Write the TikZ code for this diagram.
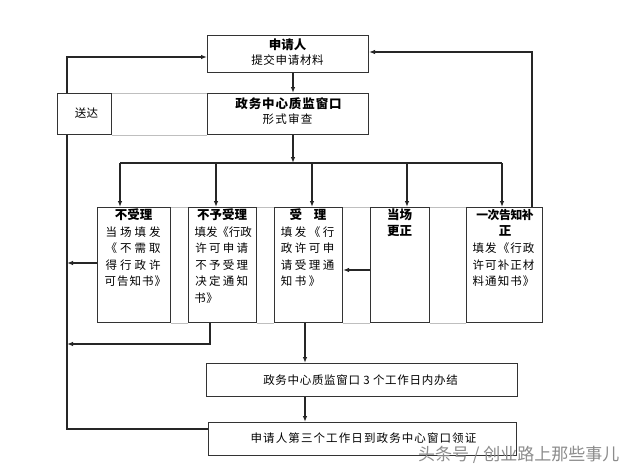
\documentclass[tikz,border=0pt]{standalone}
\usepackage{fontspec}
\setmainfont{Noto Sans CJK SC}
\usetikzlibrary{arrows.meta}
\ExplSyntaxOn
\NewDocumentCommand\pitched{mm}{\tl_map_inline:nn{#2}{\makebox[#1]{##1}}}
\ExplSyntaxOff
\begin{document}
\begin{tikzpicture}[x=1pt,y=-1pt,
  line/.style={draw=black!85, line width=1.1pt},
  arr/.style={line, -{Latex[length=6pt,width=4.5pt]}},
  gline/.style={draw=black!25, line width=0.9pt},
  box/.style={draw=black!80, line width=1.1pt, inner sep=0pt, anchor=north west},
  bt/.style={inner sep=0pt, font=\fontsize{11.5}{13}\selectfont, text=black},
  tt/.style={inner sep=0pt, font=\fontsize{12.5}{14}\selectfont\bfseries, text=black}]
\useasboundingbox (0,0) rectangle (640,469);
\fill[white] (0,0) rectangle (640,469);
% boxes
\node[box, minimum width=161pt, minimum height=37pt] (top) at (207,35) {};
\node[box, minimum width=161pt, minimum height=41pt] (mid) at (207,93) {};
\node[box, minimum width=54pt, minimum height=41pt] (sd) at (57,93) {};
\node[box, minimum width=73pt, minimum height=115pt] (b1) at (97,207) {};
\node[box, minimum width=68pt, minimum height=115pt] (b2) at (188,207) {};
\node[box, minimum width=68pt, minimum height=115pt] (b3) at (274,207) {};
\node[box, minimum width=59pt, minimum height=115pt] (b4) at (370,207) {};
\node[box, minimum width=76pt, minimum height=115pt] (b5) at (466,207) {};
\node[box, minimum width=311pt, minimum height=33pt] (w3) at (206,363) {};
\node[box, minimum width=308pt, minimum height=33pt] (w4) at (208,422) {};
% grey table rules
\draw[gline] (sd.north east) -- (mid.north west);
\draw[gline] (sd.south east) -- (mid.south west);
\draw[gline] (b1.north east) -- (b2.north west);
\draw[gline] (b2.north east) -- (b3.north west);
\draw[gline] (b3.north east) -- (b4.north west);
\draw[gline] (b4.north east) -- (b5.north west);
\draw[gline] (b1.south east) -- (b2.south west);
\draw[gline] (b2.south east) -- (b3.south west);
\draw[gline] (b3.south east) -- (b4.south west);
\draw[gline] (b4.south east) -- (b5.south west);
% texts
\node[tt] (t1) at (287.5,45) {申请人};
\node[bt] (t2) at (287.5,60) {\pitched{12.2pt}{提交申请材料}};
\node[tt] (t3) at (288.5,104) {\pitched{13.4pt}{政务中心质监窗口}};
\node[bt] (t4) at (287.5,119) {\pitched{12.8pt}{形式审查}};
\node[bt] (t5) at (86.5,113) {\pitched{11.8pt}{送达}};
% box 1
\node[tt] (a0) at (133.5,215) {不受理};
\node[bt, anchor=west] (a1) at (104,232) {\pitched{14.5pt}{当场填发}};
\node[bt, anchor=west] (a2) at (104,248.5) {\pitched{14.5pt}{《不需取}};
\node[bt, anchor=west] (a3) at (104,265) {\pitched{14.5pt}{得行政许}};
\node[bt, anchor=west] (a4) at (104,281.5) {\pitched{12.5pt}{可告知书》}};
% box 2
\node[tt] (c0) at (222,215) {\pitched{12.5pt}{不予受理}};
\node[bt, anchor=west] (c1) at (194.5,232) {\pitched{11.4pt}{填发《行政}};
\node[bt, anchor=west] (c2) at (194,248.5) {\pitched{13.75pt}{许可申请}};
\node[bt, anchor=west] (c3) at (194,265) {\pitched{13.75pt}{不予受理}};
\node[bt, anchor=west] (c4) at (194,281.5) {\pitched{13.75pt}{决定通知}};
\node[bt, anchor=west] (c5) at (194,298) {\pitched{12pt}{书》}};
% box 3
\node[tt] (d0) at (308,215) {\pitched{24.5pt}{受理}};
\node[bt, anchor=west] (d1) at (279.5,232) {\pitched{14pt}{填发《行}};
\node[bt, anchor=west] (d2) at (279.5,248.5) {\pitched{14pt}{政许可申}};
\node[bt, anchor=west] (d3) at (279.5,265) {\pitched{14pt}{请受理通}};
\node[bt, anchor=west] (d4) at (279.5,281.5) {\pitched{14pt}{知书》}};
% box 4
\node[tt] (e0) at (399.5,215) {\pitched{12.5pt}{当场}};
\node[tt] (e1) at (399.5,231) {\pitched{12.5pt}{更正}};
% box 5
\node[tt, font=\fontsize{11.8}{14}\selectfont\bfseries] (f0) at (505,215) {\pitched{11.4pt}{一次告知补}};
\node[tt] (f1) at (505,231) {正};
\node[bt] (f2) at (503.5,248.5) {\pitched{12.6pt}{填发《行政}};
\node[bt] (f3) at (503.5,265) {\pitched{12.6pt}{许可补正材}};
\node[bt] (f4) at (503.5,281.5) {\pitched{12.6pt}{料通知书》}};
% bottom boxes
\node[bt] (g1) at (360.5,380) {\pitched{12.2pt}{政务中心质监窗口3个工作日内办结}};
\node[bt] (g2) at (363.5,438) {\pitched{12.6pt}{申请人第三个工作日到政务中心窗口领证}};
% watermark
\node[inner sep=0pt, anchor=west, font=\fontsize{17}{20}\selectfont, text=black!45] (wm) at (418,455) {头条号 / 创业路上那些事儿};
% coordinates
\coordinate (xa) at (293,0);
\coordinate (bus) at (0,163);
\coordinate (x1) at (120,0);
\coordinate (x2) at (216,0);
\coordinate (x3) at (312,0);
\coordinate (x4) at (407,0);
\coordinate (x5) at (502,0);
\coordinate (xl) at (67,0);
\coordinate (yt) at (0,57);
\coordinate (xr) at (532,0);
\coordinate (yr) at (0,52);
\coordinate (yc) at (0,270);
\coordinate (yd) at (0,263);
\coordinate (xb) at (210,0);
\coordinate (ye) at (0,344);
\coordinate (xm) at (305,0);
\coordinate (yf) at (0,429);
% connectors
\draw[arr] (top.south -| xa) -- (mid.north -| xa);
\draw[arr] (mid.south -| xa) -- (xa |- bus);
\draw[line] (x1 |- bus) -- (x5 |- bus);
\draw[arr] (x1 |- bus) -- (b1.north -| x1);
\draw[arr] (x2 |- bus) -- (b2.north -| x2);
\draw[arr] (x3 |- bus) -- (b3.north -| x3);
\draw[arr] (x4 |- bus) -- (b4.north -| x4);
\draw[arr] (x5 |- bus) -- (b5.north -| x5);
\draw[arr] (sd.north -| xl) |- (top.west |- yt);
\draw[arr] (b5.north -| xr) |- (top.east |- yr);
\draw[arr] (b4.west |- yc) -- (b3.east |- yc);
\draw[arr] (b1.west |- yd) -- (xl |- yd);
\draw[arr] (b2.south -| xb) |- (xl |- ye);
\draw[arr] (b3.south -| xm) -- (w3.north -| xm);
\draw[arr] (w3.south -| xm) -- (w4.north -| xm);
\draw[line] (w4.west |- yf) -| (sd.south -| xl);
\end{tikzpicture}
\end{document}
